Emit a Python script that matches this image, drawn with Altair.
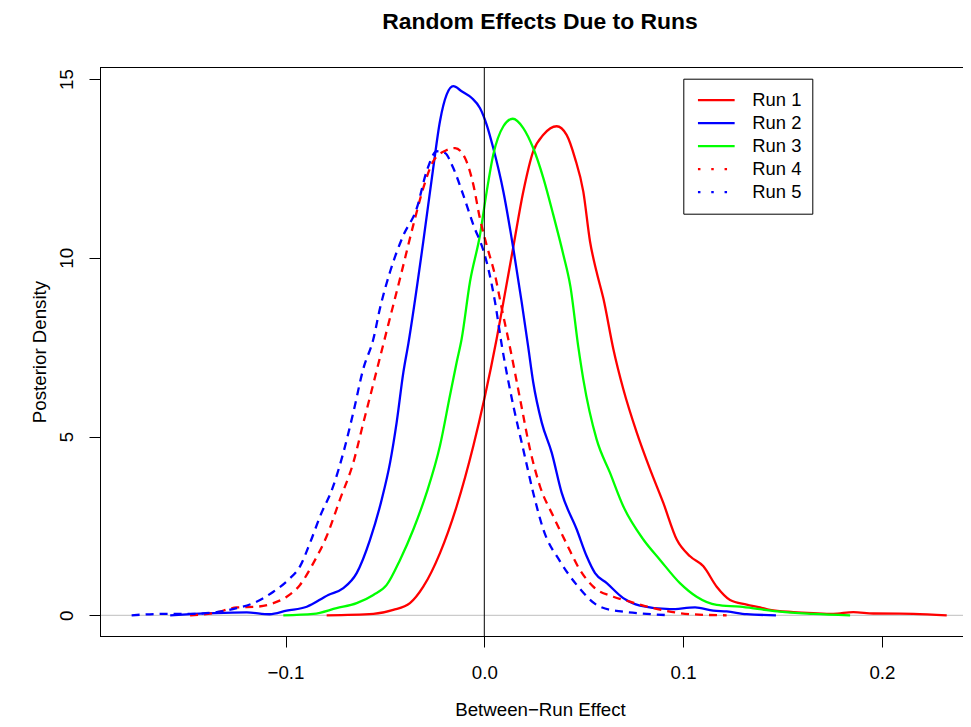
import altair as alt
import pandas as pd

runs = ["Run 1", "Run 2", "Run 3", "Run 4", "Run 5"]
colors = ["#FF0000", "#0000FF", "#00FF00", "#FF0000", "#0000FF"]

x1 = [-0.0793, -0.0558, -0.0458, -0.0374, -0.0307, -0.0223, -0.0139, -0.0055, 0.0, 0.0062, 0.0096, 0.0146,
      0.0196, 0.0246, 0.0297, 0.0364, 0.0414, 0.0456, 0.0498, 0.0532, 0.0565, 0.0599, 0.0649, 0.0699, 0.0767,
      0.0834, 0.0900, 0.0968, 0.1035, 0.1102, 0.1169, 0.1236, 0.1320, 0.1387, 0.1437, 0.1555, 0.1655, 0.1756,
      0.1856, 0.1957, 0.2158, 0.2326]
y1 = [0.0, 0.04, 0.15, 0.34, 0.80, 1.74, 3.05, 4.74, 6.05, 7.73, 8.76, 10.31,
      11.85, 12.98, 13.44, 13.68, 13.44, 12.79, 11.85, 10.45, 9.6, 8.86, 7.45, 6.33, 5.11,
      4.08, 3.15, 2.12, 1.65, 1.37, 0.80, 0.43, 0.30, 0.22, 0.15, 0.09, 0.06, 0.04,
      0.09, 0.05, 0.04, 0.0]

x2 = [-0.158, -0.1195, -0.108, -0.0994, -0.0893, -0.0785, -0.0709, -0.0642, -0.0575, -0.0516, -0.0474, -0.0441,
      -0.0407, -0.0382, -0.0307, -0.0257, -0.0223, -0.0189, -0.0156, -0.0114, -0.0063, -0.0022, 0.0012, 0.0045,
      0.0096, 0.0146, 0.0188, 0.0221, 0.0246, 0.0289, 0.0339, 0.0389, 0.0465, 0.0515, 0.0557, 0.0616, 0.0699,
      0.0783, 0.0934, 0.1060, 0.1152, 0.1219, 0.1320, 0.1467]
y2 = [0.0, 0.08, 0.03, 0.13, 0.24, 0.57, 0.76, 1.18, 2.11, 3.24, 4.27, 5.39,
      6.80, 7.6, 10.45, 12.51, 13.82, 14.57, 14.80, 14.66, 14.47, 14.19, 13.72, 13.07,
      11.85, 10.26, 8.76, 7.5, 6.52, 5.39, 4.55, 3.43, 2.40, 1.65, 1.18, 0.90, 0.48,
      0.27, 0.17, 0.22, 0.13, 0.11, 0.03, 0.0]

x3 = [-0.1011, -0.086, -0.0743, -0.0642, -0.0558, -0.0491, -0.0424, -0.0357, -0.029, -0.0223, -0.0173, -0.0139,
      -0.0114, -0.0072, -0.0022, 0.0012, 0.0045, 0.0096, 0.0143, 0.0196, 0.0246, 0.0297, 0.0347, 0.0397, 0.0433,
      0.0473, 0.0498, 0.0565, 0.0632, 0.0699, 0.0800, 0.0884, 0.0984, 0.1068, 0.1169, 0.1286, 0.1387, 0.1487,
      0.1655, 0.1840]
y3 = [0.0, 0.04, 0.20, 0.34, 0.57, 0.85, 1.55, 2.40, 3.43, 4.74, 6.14, 7.08,
      7.73, 9.33, 10.63, 11.85, 12.88, 13.68, 13.89, 13.63, 13.07, 12.23, 11.2, 10.1, 9.2,
      7.5, 6.6, 4.92, 3.99, 3.05, 2.12, 1.55, 0.90, 0.52, 0.29, 0.24, 0.17, 0.10,
      0.04, 0.0]

x4 = [-0.148, -0.1363, -0.1245, -0.1145, -0.1061, -0.0994, -0.0927, -0.086, -0.0793, -0.0726, -0.0659, -0.0609,
      -0.0558, -0.0508, -0.0483, -0.0424, -0.0357, -0.0307, -0.0257, -0.0198, -0.0147, -0.0097, -0.0055, -0.0022,
      0.0012, 0.0054, 0.0088, 0.0129, 0.018, 0.023, 0.028, 0.0347, 0.0414, 0.0481, 0.0548, 0.0649, 0.0733,
      0.085, 0.0984, 0.1119, 0.1219]
y4 = [0.0, 0.06, 0.22, 0.24, 0.34, 0.52, 0.85, 1.46, 2.21, 3.24, 4.27, 5.37,
      6.48, 7.58, 8.13, 9.42, 10.92, 11.95, 12.7, 12.99, 13.07, 12.79, 12.04, 11.10,
      10.35, 9.51, 8.58, 7.5, 6.05, 4.64, 3.61, 2.77, 2.0, 1.27, 0.80, 0.52, 0.38,
      0.20, 0.06, 0.01, 0.0]

x5 = [-0.1774, -0.1615, -0.148, -0.133, -0.1245, -0.1162, -0.1061, -0.0986, -0.0927, -0.0877, -0.0826, -0.076,
      -0.0709, -0.0659, -0.0609, -0.0558, -0.0525, -0.0474, -0.0407, -0.034, -0.029, -0.0239, -0.0198, -0.0156,
      -0.0106, -0.0055, -0.0005, 0.002, 0.0054, 0.0088, 0.0146, 0.0196, 0.0246, 0.0297, 0.0381, 0.0465, 0.0582,
      0.0699, 0.0817, 0.0934]
y5 = [0.0, 0.04, 0.04, 0.10, 0.2, 0.34, 0.66, 0.99, 1.37, 2.02, 2.77, 3.61,
      4.55, 5.67, 6.89, 7.73, 8.58, 9.61, 10.63, 11.38, 12.42, 12.98, 12.93, 12.51,
      11.76, 10.92, 10.21, 9.70, 8.76, 7.55, 5.86, 4.64, 3.43, 2.40, 1.51, 0.85, 0.24,
      0.10, 0.04, 0.0]

x_ticks = [-0.1, 0.0, 0.1, 0.2]
y_ticks = [0, 5, 10, 15]

series = [(runs[0], x1, y1), (runs[1], x2, y2), (runs[2], x3, y3), (runs[3], x4, y4), (runs[4], x5, y5)]
rows = []
for name, xs, ys in series:
    for i, (a, b) in enumerate(zip(xs, ys)):
        rows.append({"run": name, "effect": a, "density": b, "order": i})
df = pd.DataFrame(rows)

FONT = "Liberation Sans"
FS = 18.7
W, H = 863, 569

xscale = alt.Scale(domain=[-0.19331, 0.24079], nice=False, zero=False)
yscale = alt.Scale(domain=[-0.579, 15.337], nice=False, zero=False)

xaxis = alt.Axis(values=x_ticks, format=".1f", tickSize=11, tickColor="black", tickWidth=1,
                 domain=False, grid=False, labelFont=FONT, labelFontSize=FS, labelColor="black",
                 labelPadding=31, labelBaseline="alphabetic", labelAlign="center", labelFlush=False,
                 labelOverlap=False, titleFont=FONT, titleFontSize=FS, titleFontWeight="normal",
                 titleColor="black", titleBaseline="alphabetic", titleAlign="center", titleX=440, titleY=79)
yaxis = alt.Axis(values=y_ticks, format="d", tickSize=11, tickColor="black", tickWidth=1,
                 domain=False, grid=False, labelFont=FONT, labelFontSize=FS, labelColor="black",
                 labelAngle=-90, labelAlign="center", labelBaseline="alphabetic", labelPadding=17,
                 labelFlush=False, labelOverlap=False, titleFont=FONT, titleFontSize=FS,
                 titleFontWeight="normal", titleColor="black", titleAngle=270, titleBaseline="alphabetic",
                 titleAlign="center", titleX=-55, titleY=284.5)

xenc = alt.X("effect:Q", scale=xscale, axis=xaxis, title="Between\u2212Run Effect")
yenc = alt.Y("density:Q", scale=yscale, axis=yaxis, title="Posterior Density")

legend = alt.Legend(
    orient="none", legendX=583.3, legendY=11.7, title=None,
    symbolType="stroke", symbolSize=1347, symbolStrokeWidth=2.3,
    labelFont=FONT, labelFontSize=18.4, labelColor="black",
    padding=10, symbolOffset=3, labelOffset=16, clipHeight=22.9, rowPadding=0,
    strokeColor="black", fillColor="white", cornerRadius=0,
)
color = alt.Color("run:N", scale=alt.Scale(domain=runs, range=colors), legend=legend)

solid = alt.Chart(df).transform_filter(
    alt.FieldOneOfPredicate(field="run", oneOf=runs[:3])
).mark_line(strokeWidth=2.3, interpolate="monotone", clip=True).encode(
    x=xenc, y=yenc, color=color, order="order:Q")

dashed = alt.Chart(df).transform_filter(
    alt.FieldOneOfPredicate(field="run", oneOf=runs[3:])
).mark_line(strokeWidth=2.3, interpolate="monotone", clip=True, strokeDash=[8, 6]).encode(
    x=xenc, y=yenc, color=color, order="order:Q")

# legend carrier: no rows drawn, only gives the legend its line styles (dotted for runs 4 and 5)
key = alt.Chart(df).transform_filter("false").mark_line(strokeWidth=2.3).encode(
    x=xenc, y=yenc, color=color,
    strokeDash=alt.StrokeDash("run:N", scale=alt.Scale(domain=runs, range=[[1, 0], [1, 0], [1, 0], [2.5, 10.8], [2.5, 10.8]]),
                              legend=legend))

zero_h = alt.Chart(pd.DataFrame({"density": [0]})).mark_rule(color="#BEBEBE", strokeWidth=1).encode(y=yenc)
zero_v = alt.Chart(pd.DataFrame({"effect": [0]})).mark_rule(color="black", strokeWidth=1).encode(x=xenc)

# plot frame (top, bottom, left); the right side of R's box lies beyond the picture
frame_top = alt.Chart().mark_rule(color="black", strokeWidth=1).encode(y=alt.value(0.5))
frame_bottom = alt.Chart().mark_rule(color="black", strokeWidth=1).encode(y=alt.value(H + 0.5))
frame_left = alt.Chart().mark_rule(color="black", strokeWidth=1).encode(x=alt.value(0.5))

chart = alt.layer(zero_h, solid, dashed, zero_v, frame_top, frame_bottom, frame_left, key).properties(
    width=W, height=H,
    padding={"left": 92, "top": 59, "right": 0, "bottom": 83},
    autosize=alt.AutoSizeParams(type="none"),
    background="white",
    title=alt.TitleParams("Random Effects Due to Runs", font=FONT, fontSize=22.9, fontWeight="bold",
                          anchor="middle", frame="group", baseline="alphabetic", offset=15, dx=8.5,
                          color="black"),
).configure_view(stroke=None)

chart.save("out.html", embed_options={"renderer": "svg", "actions": False})
